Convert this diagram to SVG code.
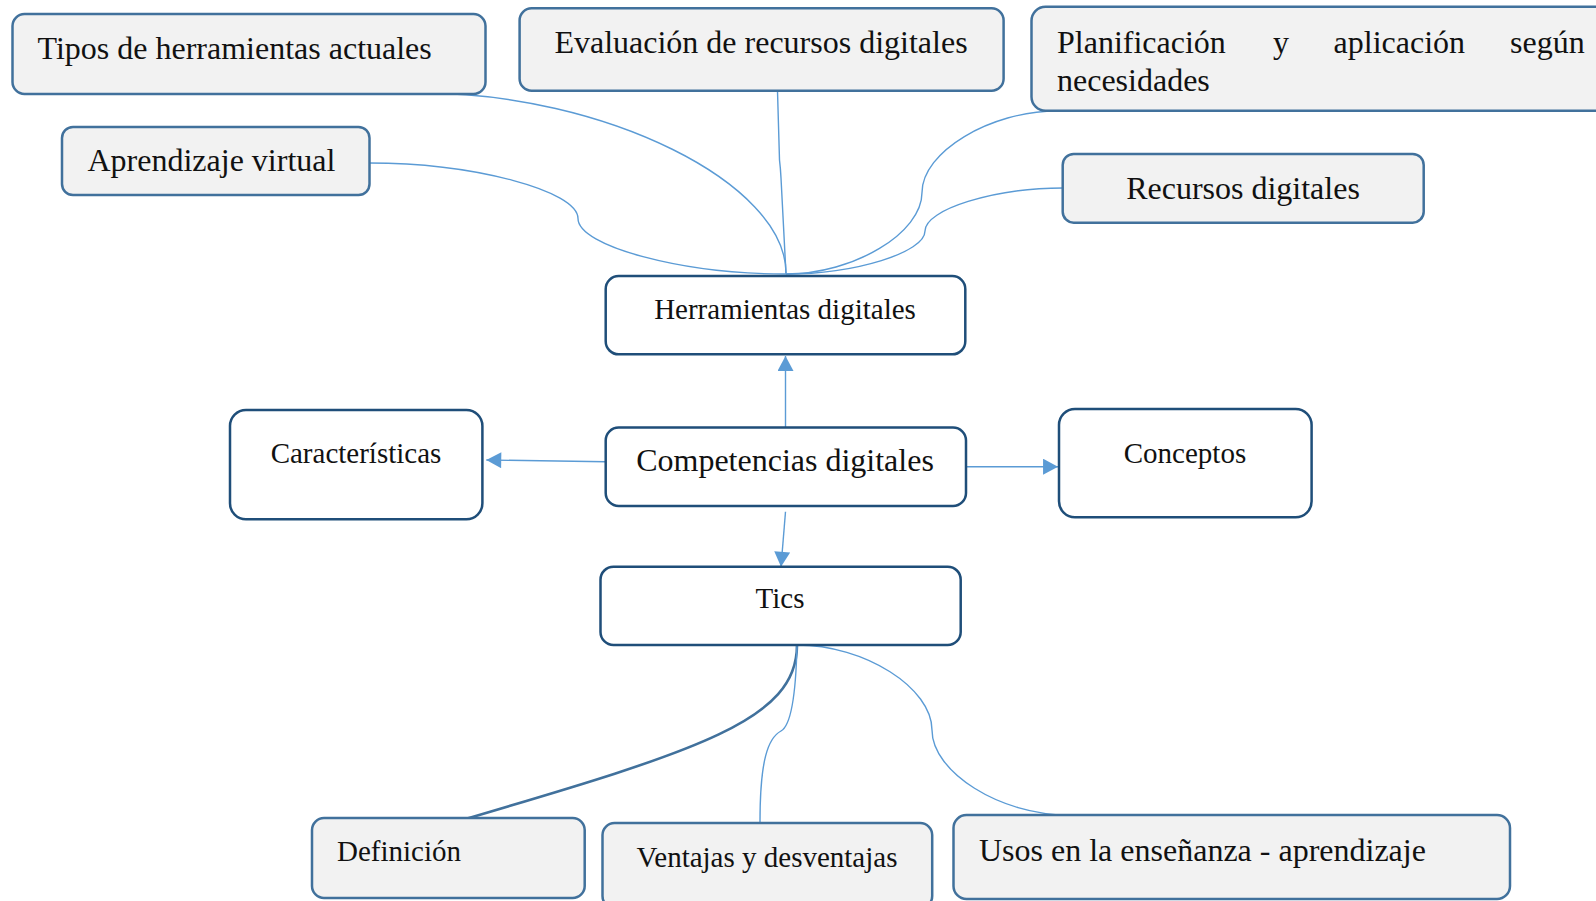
<svg xmlns="http://www.w3.org/2000/svg" width="1596" height="901" viewBox="0 0 1596 901">
<style>
.g{fill:#F2F2F2;stroke:#41719C;stroke-width:2.5}
.w{fill:#FFFFFF;stroke:#1F4E79;stroke-width:2.5}
.t{font-family:"Liberation Serif","Times New Roman",serif;fill:#111111}
.l{font-size:32px}
.s{font-size:29px}
.c{text-anchor:middle}
.cn{fill:none;stroke:#5B9BD5;stroke-width:1.4}
.cd{fill:none;stroke:#41719C;stroke-width:2.6}
</style>
<defs>
<marker id="ah" markerUnits="userSpaceOnUse" markerWidth="16" markerHeight="16" viewBox="0 0 14 15" refX="14" refY="7.5" orient="auto">
<path d="M0,0 L14,7.5 L0,15 Z" fill="#5B9BD5"/>
</marker>
</defs>
<rect width="1596" height="901" fill="#FFFFFF"/>
<g id="connectors">
<path class="cn" d="M422,93 C604,93 786,183 786,273"/>
<path class="cn" d="M369,163 C473.5,163 578,190.75 578,218.5 C578,246.25 682,274 786,274"/>
<path class="cn" d="M777.5,91 L779.5,160 Q780.5,168 781,178 L786,274"/>
<path class="cn" d="M786,274 C854,274 922,233 922,192.5 C922,152 990,111 1057,111"/>
<path class="cn" d="M1063,188 C994,188 925,209.5 925,231 C925,252.5 855,274 786,274"/>
<path class="cn" d="M785.5,427 L785.5,356" marker-end="url(#ah)"/>
<path class="cn" d="M605.7,461.7 L486.3,460" marker-end="url(#ah)"/>
<path class="cn" d="M966,466.7 L1058,466.7" marker-end="url(#ah)"/>
<path class="cn" d="M785.5,511.7 L781,566.7" marker-end="url(#ah)"/>
<path class="cd" d="M797,645 C797,720 700,750 462,820"/>
<path class="cn" d="M797,645 C796,690 792,725 781,731 C768,738 760,760 760,822"/>
<path class="cn" d="M797,645 C865,645 932,688 932,730 C932,772 1000,815 1068,815"/>
</g>
<g id="n-tipos">
<rect class="g" x="12.5" y="14" width="473" height="80" rx="12"/>
<text class="t l" x="37.5" y="59">Tipos de herramientas actuales</text>
</g>
<g id="n-aprendizaje">
<rect class="g" x="62" y="127" width="307.5" height="68" rx="11"/>
<text class="t l" x="87.5" y="171">Aprendizaje virtual</text>
</g>
<g id="n-evaluacion">
<rect class="g" x="519.6" y="8.3" width="484" height="82.4" rx="12"/>
<text class="t l c" x="761" y="53.3">Evaluación de recursos digitales</text>
</g>
<g id="n-planificacion">
<rect class="g" x="1031.5" y="6.7" width="600" height="104" rx="14"/>
<text class="t l" y="52.7"><tspan x="1057">Planificación</tspan><tspan x="1273">y</tspan><tspan x="1333.6">aplicación</tspan><tspan x="1510">según</tspan></text>
<text class="t l" x="1057" y="90.7">necesidades</text>
</g>
<g id="n-recursos">
<rect class="g" x="1062.7" y="154" width="361" height="68.7" rx="11"/>
<text class="t l c" x="1243" y="199.3">Recursos digitales</text>
</g>
<g id="n-herramientas">
<rect class="w" x="605.7" y="276" width="359.6" height="78.3" rx="13"/>
<text class="t s c" x="785" y="319.3">Herramientas digitales</text>
</g>
<g id="n-competencias">
<rect class="w" x="605.7" y="427.5" width="360.3" height="78.5" rx="13"/>
<text class="t l c" x="785" y="470.7">Competencias digitales</text>
</g>
<g id="n-caracteristicas">
<rect class="w" x="230" y="410" width="252.4" height="109.3" rx="16"/>
<text class="t s c" x="356" y="463.3">Características</text>
</g>
<g id="n-conceptos">
<rect class="w" x="1059" y="409" width="252.6" height="108.3" rx="16"/>
<text class="t s c" x="1185" y="462.7">Conceptos</text>
</g>
<g id="n-tics">
<rect class="w" x="600.5" y="566.7" width="360.2" height="78.3" rx="13"/>
<text class="t s c" x="780" y="608.3">Tics</text>
</g>
<g id="n-definicion">
<rect class="g" x="312" y="818" width="272.7" height="80" rx="12"/>
<text class="t s" x="337" y="860.7">Definición</text>
</g>
<g id="n-ventajas">
<rect class="g" x="602.5" y="823" width="329.7" height="85" rx="12"/>
<text class="t s c" x="767" y="866.7">Ventajas y desventajas</text>
</g>
<g id="n-usos">
<rect class="g" x="953.5" y="815" width="556.5" height="84" rx="13"/>
<text class="t l" x="979" y="860.7">Usos en la enseñanza - aprendizaje</text>
</g>
</svg>
